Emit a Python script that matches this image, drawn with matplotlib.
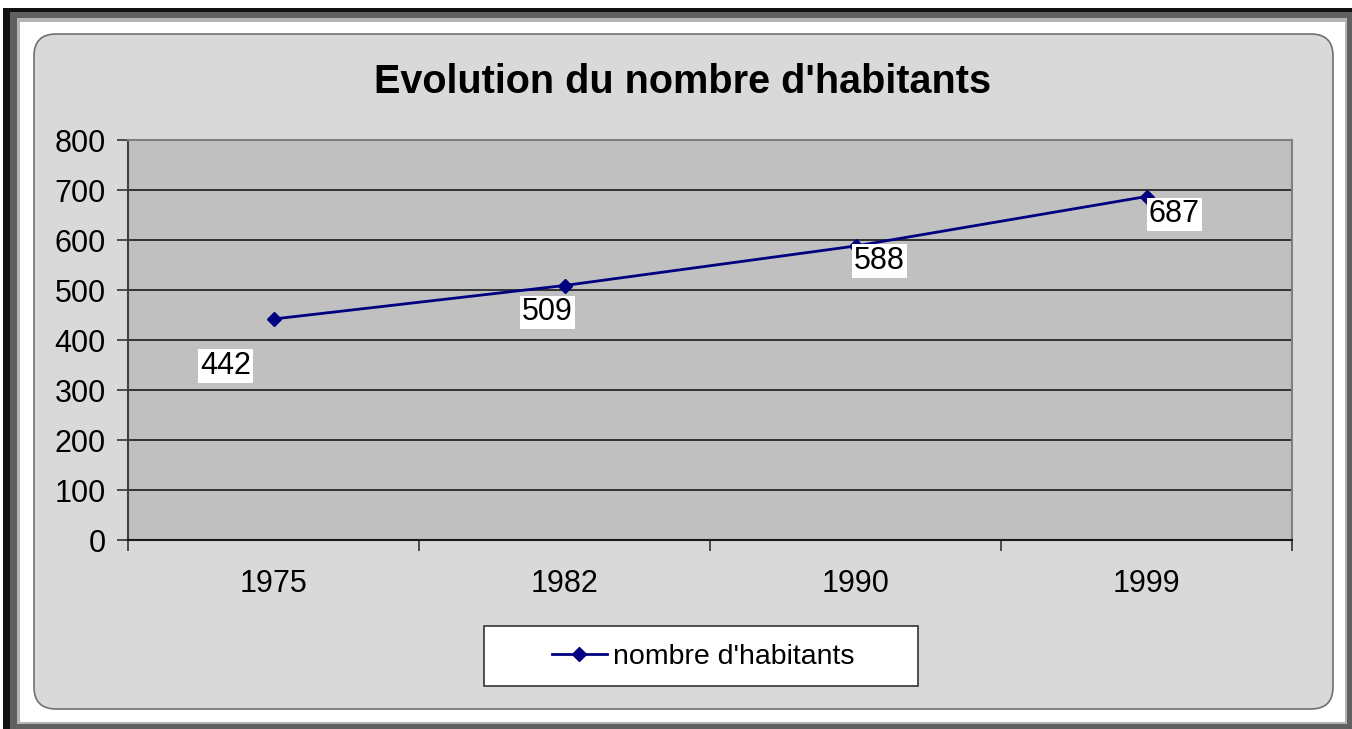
import numpy as np
import matplotlib.pyplot as plt
from matplotlib.patches import Rectangle, FancyBboxPatch
from matplotlib.lines import Line2D

plt.rcParams['font.family'] = ['Liberation Sans', 'DejaVu Sans']

# data
years = ['1975', '1982', '1990', '1999']
habitants = [442, 509, 588, 687]
yticks = [0, 100, 200, 300, 400, 500, 600, 700, 800]
# label offsets (pixels) as placed in the original chart
label_dx = [-48, -17, 24, 28]
label_dy = [-47, -27, -15, -18]

W, H = 1352, 729
fig = plt.figure(figsize=(W / 100, H / 100), dpi=100)
fig.patch.set_facecolor('white')

# background / frame drawn in pixel coords
bg = fig.add_axes([0, 0, 1, 1])
bg.set_xlim(0, W)
bg.set_ylim(H, 0)
bg.axis('off')
bg.add_patch(Rectangle((3, 8), W - 3, H - 8, facecolor='#111111', edgecolor='none'))
bg.add_patch(Rectangle((10, 12), W - 10, H - 12, facecolor='#606060', edgecolor='none'))
bg.add_patch(Rectangle((17, 18), W - 22, H - 23, facecolor='#b4b4b4', edgecolor='none'))
bg.add_patch(Rectangle((20, 22), W - 27, H - 29, facecolor='white', edgecolor='none'))
bg.add_patch(FancyBboxPatch((34, 34), 1299, 675,
                            boxstyle='round,pad=0,rounding_size=22',
                            facecolor='#d9d9d9', edgecolor='#707070', lw=1.2))
# legend box
bg.add_patch(Rectangle((484, 626), 434, 60, facecolor='white',
                       edgecolor='#333333', lw=1.2))

# plot area
ax = fig.add_axes([128 / W, (H - 540) / H, (1292 - 128) / W, (540 - 140) / H])
ax.set_facecolor('#c0c0c0')
x = np.arange(len(years))
ax.set_xlim(-0.5, len(years) - 0.5)
ax.set_ylim(0, 800)

for v in yticks[1:-1]:
    ax.axhline(v, color='#1a1a1a', lw=1.2, zorder=1)

ax.plot(x, habitants, color='#000080', lw=2, marker='D', markersize=7,
        markerfacecolor='#000080', markeredgecolor='#000080', zorder=3)

for i, v in enumerate(habitants):
    ax.annotate(str(v), (x[i], v), xytext=(label_dx[i], label_dy[i]),
                textcoords='offset pixels', ha='center', va='center',
                fontsize=22, color='black', zorder=4,
                bbox=dict(boxstyle='square,pad=0.06', facecolor='white', edgecolor='none'))

ax.set_yticks(yticks)
ax.set_yticklabels([str(v) for v in yticks], fontsize=22)
ax.set_xticks(x)
ax.set_xticklabels(years, fontsize=22)
ax.set_xticks(np.arange(-0.5, len(years)), minor=True)
ax.tick_params(axis='x', which='major', length=0, pad=21)
ax.tick_params(axis='x', which='minor', length=8, width=1.2, color='#333333', direction='out')
ax.tick_params(axis='y', length=8, width=1.2, color='#333333', direction='out', pad=8)

ax.spines['top'].set_color('#808080')
ax.spines['right'].set_color('#808080')
ax.spines['left'].set_color('#404040')
ax.spines['bottom'].set_color('#1a1a1a')
for s in ax.spines.values():
    s.set_linewidth(1.5)

fig.text(683 / W, 1 - 82 / H, "Evolution du nombre d'habitants",
         ha='center', va='center', fontsize=28.5, fontweight='bold')

# legend
handle = Line2D([], [], color='#000080', lw=2, marker='D', markersize=7)
leg = fig.legend([handle], ["nombre d'habitants"], loc='center',
                 bbox_to_anchor=(703 / W, 1 - 657 / H), fontsize=20.5,
                 frameon=False, handlelength=1.95, handletextpad=0.2,
                 borderpad=0, borderaxespad=0)

fig.savefig('out.png', dpi=100)
